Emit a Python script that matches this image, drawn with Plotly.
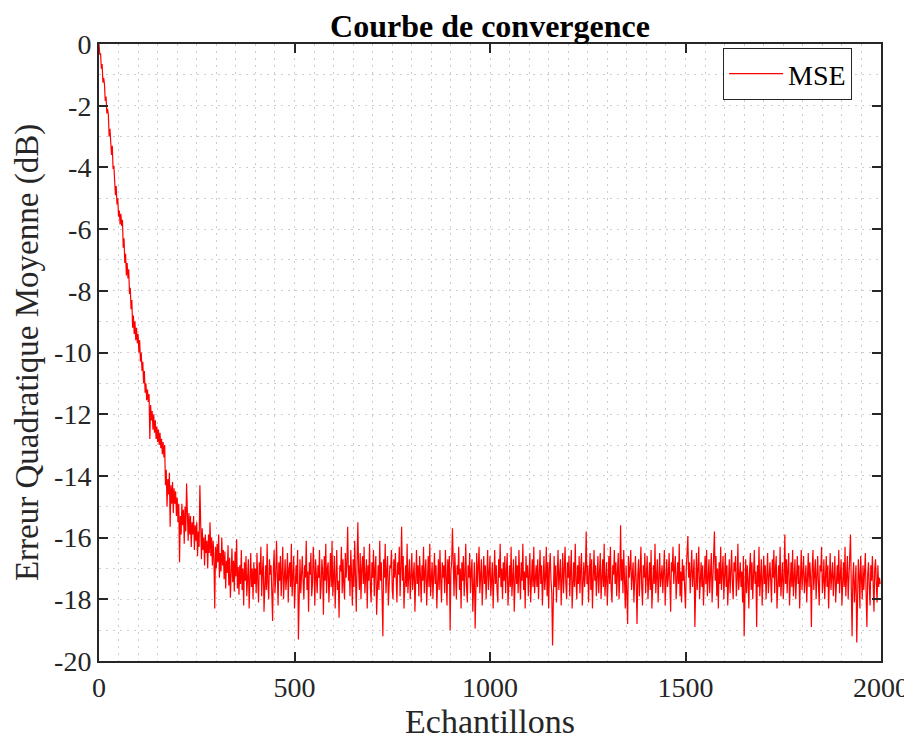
import plotly.graph_objects as go

# Sample index (every 2nd sample of the 2000-sample run)
samples = list(range(0, 2000, 2))

# MSE in dB
mse_db = [
    0.0, -0.35, -0.3, -0.8, -0.65, -1.25, -1.1, -1.3, -1.85, -1.7, -2.25, -2.1, -2.3, -3.0, -2.75, -3.1, -3.6, -3.3, -4.05, -3.95,
    -4.4, -4.9, -4.6, -5.2, -5.0, -5.6, -5.4, -5.85, -5.5, -5.9, -5.7, -6.6, -6.3, -7.1, -6.8, -7.5, -7.1, -7.6, -7.3, -8.1,
    -7.9, -8.6, -8.3, -9.2, -8.8, -9.4, -9.0, -9.6, -9.2, -9.7, -9.4, -10.0, -9.6, -10.3, -10.0, -10.6, -10.3, -11.0, -10.6, -11.3,
    -11.0, -11.55, -11.2, -11.6, -11.35, -12.8, -11.7, -12.2, -11.9, -12.5, -12.0, -12.6, -12.2, -12.8, -12.4, -12.9, -12.5, -13.0, -12.6, -13.1,
    -12.8, -13.3, -12.9, -13.4, -13.0, -14.3, -13.8, -15.0, -14.1, -14.6, -13.9, -15.65, -14.3, -14.9, -14.2, -15.2, -14.4, -14.9, -14.5, -15.3,
    -14.7, -15.5, -14.9, -16.8, -15.3, -15.9, -14.9, -15.6, -15.1, -16.2, -15.0, -15.8, -14.25, -15.4, -16.1, -15.2, -15.9, -15.3, -16.3, -15.5,
    -15.9, -15.3, -16.4, -15.6, -16.1, -15.5, -16.6, -15.8, -16.3, -14.3, -15.9, -16.7, -15.7, -16.4, -16.0, -16.9, -15.9, -16.5, -16.1, -17.0,
    -15.9, -16.5, -15.5, -16.6, -16.0, -16.9, -16.1, -16.7, -18.3, -16.3, -17.0, -16.2, -16.8, -15.9, -17.3, -16.5, -17.1, -16.0, -16.9, -16.4,
    -17.35, -16.45, -17.65, -16.75, -17.15, -16.25, -17.55, -16.65, -17.95, -16.85, -16.35, -17.45, -16.75, -17.75, -16.45, -17.25, -16.05, -17.65, -16.95, -17.85,
    -16.9, -17.5, -16.4, -17.7, -17.0, -18.2, -16.8, -17.4, -16.6, -17.9, -17.2, -16.7, -18.3, -17.1, -16.5, -17.6, -17.0, -18.0, -16.8, -17.5,
    -17.0, -17.8, -16.5, -17.4, -18.1, -16.8, -17.2, -16.3, -17.9, -17.1, -16.6, -18.4, -17.3, -16.9, -17.7, -16.2, -17.5, -18.0, -16.7, -17.2,
    -16.9, -17.6, -18.7, -17.0, -16.4, -17.8, -17.3, -16.1, -17.5, -18.2, -16.8, -17.4, -16.6, -17.9, -17.1, -16.3, -18.0, -17.2, -16.7, -17.7,
    -17.3, -16.5, -18.1, -17.0, -16.8, -17.6, -16.2, -17.9, -17.4, -16.6, -18.3, -17.1, -16.9, -17.5, -16.4, -19.3, -17.2, -16.7, -17.8, -17.0,
    -16.6, -17.4, -18.0, -16.9, -17.3, -16.1, -17.7, -17.1, -18.4, -16.8, -17.2, -16.5, -17.9, -17.5, -16.3, -17.0, -18.2, -16.7, -17.4, -17.8,
    -16.9, -17.3, -16.4, -18.0, -17.6, -16.7, -17.1, -18.5, -16.6, -17.4, -16.2, -17.8, -17.0, -16.8, -18.1, -17.3, -16.5, -17.6, -16.1, -17.9,
    -17.2, -16.6, -18.3, -17.0, -16.4, -17.7, -17.4, -18.6, -16.9, -17.1, -16.3, -17.8, -16.7, -17.5, -18.0, -16.5, -17.3, -16.8, -15.65, -17.4,
    -16.9, -17.9, -16.4, -17.2, -18.2, -16.7, -17.6, -16.1, -17.3, -18.4, -16.8, -15.5, -17.1, -17.7, -16.5, -18.0, -17.0, -16.6, -17.5, -16.3,
    -17.8, -17.1, -16.7, -18.3, -16.9, -17.4, -16.2, -17.6, -18.1, -16.8, -17.3, -16.4, -17.9, -17.0, -16.6, -18.5, -17.2, -16.9, -17.7, -16.1,
    -17.4, -16.8, -17.9, -19.2, -16.7, -17.3, -16.2, -17.8, -17.1, -16.6, -18.2, -17.5, -16.9, -17.0, -16.4, -17.7, -18.0, -16.7, -17.3, -16.5,
    -17.6, -18.1, -16.8, -17.2, -16.3, -17.9, -17.0, -15.65, -17.4, -16.6, -18.3, -17.1, -16.9, -17.6, -16.2, -17.8, -17.3, -16.7, -18.0, -17.2,
    -16.5, -17.7, -17.0, -16.8, -18.4, -17.3, -16.4, -17.5, -16.9, -17.9, -16.6, -17.2, -18.1, -16.9, -17.4, -16.3, -17.8, -17.1, -16.7, -18.2,
    -17.0, -16.6, -17.6, -16.2, -17.9, -17.3, -16.8, -18.0, -17.1, -16.5, -17.5, -16.9, -18.3, -17.2, -16.7, -17.7, -16.4, -17.4, -18.1, -16.8,
    -17.3, -16.9, -17.8, -16.4, -17.2, -18.2, -16.7, -17.5, -16.6, -19.0, -17.1, -16.8, -15.7, -17.4, -17.9, -16.5, -17.6, -18.0, -16.9, -17.2,
    -16.3, -17.7, -17.0, -18.3, -16.8, -17.4, -16.6, -17.9, -17.2, -16.2, -17.6, -18.1, -16.9, -17.3, -16.5, -17.8, -17.1, -16.7, -18.4, -17.0,
    -16.8, -18.95, -17.2, -16.5, -17.6, -17.0, -16.3, -17.8, -17.4, -16.7, -18.2, -17.1, -16.6, -17.5, -16.9, -18.0, -17.3, -16.4, -17.7, -17.1,
    -16.6, -17.9, -17.2, -16.8, -18.3, -17.0, -16.4, -17.5, -16.9, -17.7, -18.1, -16.7, -17.3, -16.2, -17.6, -17.0, -18.0, -16.8, -17.4, -16.6,
    -17.8, -17.1, -16.5, -18.2, -17.3, -16.9, -17.6, -16.3, -17.9, -17.0, -16.7, -18.4, -17.2, -16.6, -17.5, -16.9, -17.8, -16.4, -17.3, -18.0,
    -16.8, -17.4, -16.2, -17.7, -17.1, -18.3, -16.6, -17.3, -16.9, -17.9, -17.2, -16.5, -18.1, -17.0, -16.7, -17.6, -16.3, -17.8, -17.4, -16.9,
    -17.6, -16.7, -18.0, -17.2, -16.4, -17.5, -16.9, -18.2, -17.1, -16.6, -17.7, -17.3, -16.3, -17.9, -16.8, -18.3, -17.0, -16.5, -17.4, -17.8,
    -19.5, -17.1, -16.6, -17.6, -16.9, -18.1, -17.3, -16.4, -17.7, -17.0, -16.7, -18.2, -17.4, -16.5, -17.8, -17.1, -16.3, -17.5, -18.0, -16.8,
    -17.3, -16.6, -17.9, -17.1, -16.4, -18.3, -17.2, -16.8, -17.6, -16.2, -17.4, -18.0, -16.9, -17.5, -16.6, -17.8, -17.0, -16.5, -18.2, -17.3,
    -16.8, -17.6, -17.1, -15.8, -17.5, -16.9, -18.1, -17.2, -16.5, -17.7, -16.7, -18.3, -17.0, -16.4, -17.4, -16.9, -17.9, -17.2, -16.6, -17.8,
    -17.1, -16.5, -18.0, -17.3, -16.7, -17.6, -16.2, -17.9, -17.4, -16.8, -18.2, -17.0, -16.6, -17.5, -16.3, -17.7, -18.1, -16.9, -17.2, -16.4,
    -17.5, -16.8, -17.9, -17.1, -16.5, -18.0, -17.3, -15.6, -17.4, -16.7, -17.8, -16.4, -17.2, -18.3, -16.9, -17.6, -18.8, -16.6, -17.3, -17.0,
    -16.4, -17.7, -17.0, -16.8, -18.1, -17.4, -16.6, -17.5, -18.8, -17.2, -16.7, -17.9, -17.1, -16.3, -17.6, -18.2, -16.9, -17.3, -16.5, -17.8,
    -17.2, -16.6, -18.0, -17.0, -16.8, -17.7, -16.4, -18.3, -17.3, -16.9, -17.5, -16.2, -17.8, -17.1, -16.7, -18.1, -17.4, -16.5, -17.6, -17.0,
    -16.9, -17.8, -17.2, -16.4, -18.2, -17.0, -16.7, -17.6, -17.3, -16.5, -17.9, -18.4, -16.8, -17.1, -16.3, -17.5, -17.0, -16.6, -18.0, -17.4,
    -16.8, -17.5, -16.2, -17.9, -17.1, -18.1, -16.7, -17.4, -16.9, -17.7, -18.3, -17.0, -16.6, -15.95, -17.3, -16.8, -17.8, -17.2, -16.4, -17.6,
    -17.1, -16.7, -18.9, -17.3, -16.5, -17.7, -17.0, -16.3, -18.0, -17.4, -16.8, -17.6, -16.9, -18.2, -17.2, -16.6, -17.5, -16.4, -17.9, -17.0,
    -16.7, -17.8, -17.1, -16.5, -18.1, -17.3, -16.9, -15.8, -17.4, -16.6, -17.9, -17.0, -18.3, -16.8, -17.5, -16.3, -17.7, -17.2, -16.6, -18.0,
    -17.2, -16.5, -17.6, -16.9, -18.2, -17.0, -16.7, -17.8, -17.3, -16.4, -17.5, -18.0, -16.8, -17.1, -16.6, -17.9, -17.4, -16.2, -17.7, -17.0,
    -16.8, -17.6, -17.1, -18.1, -16.6, -19.2, -17.3, -16.7, -17.8, -16.9, -17.4, -18.3, -17.0, -16.5, -17.7, -16.8, -18.0, -17.2, -16.4, -17.5,
    -17.1, -18.9, -16.9, -17.6, -16.3, -17.9, -17.2, -16.7, -18.2, -17.0, -16.6, -17.5, -16.9, -18.0, -17.3, -16.5, -17.8, -17.1, -16.8, -17.4,
    -18.1, -16.7, -17.3, -16.4, -17.8, -17.0, -16.6, -18.3, -17.2, -16.9, -17.6, -16.3, -17.9, -17.1, -16.8, -18.0, -17.4, -15.9, -17.5, -16.7,
    -17.8, -17.0, -16.5, -18.2, -17.3, -16.8, -17.6, -16.4, -17.9, -17.2, -16.7, -18.0, -17.1, -16.6, -17.5, -16.9, -18.3, -17.3, -16.4, -17.7,
    -17.0, -16.6, -17.8, -17.2, -16.9, -18.1, -17.4, -16.5, -17.6, -16.8, -17.3, -18.9, -17.0, -16.4, -17.7, -17.1, -16.7, -18.0, -17.3, -16.6,
    -17.5, -18.2, -16.9, -17.1, -16.3, -17.8, -17.4, -16.7, -18.0, -17.2, -16.6, -17.6, -16.9, -18.3, -17.0, -16.5, -17.7, -17.3, -16.8, -17.9,
    -17.1, -16.6, -18.1, -17.4, -16.9, -17.5, -16.4, -17.8, -17.2, -16.7, -18.2, -17.0, -16.8, -17.6, -16.3, -17.9, -17.3, -16.6, -18.0, -17.2,
    -17.0, -15.9, -17.6, -19.2, -17.3, -16.8, -18.1, -17.5, -16.9, -19.4, -17.8, -16.7, -17.2, -18.3, -16.6, -17.4, -18.0, -16.9, -17.7, -17.1,
    -16.5, -17.9, -18.9, -17.2, -16.8, -17.6, -18.2, -16.9, -17.4, -16.6, -17.8, -18.4, -17.0, -16.7, -17.5, -18.1, -16.9, -17.6, -17.3, -17.5,
]

x_ticks = [0, 500, 1000, 1500, 2000]
y_ticks = [0, -2, -4, -6, -8, -10, -12, -14, -16, -18, -20]

AX = "#262626"
GRID = "#cdcdcd"
DASH = "2px,5px"
FONT = "Liberation Serif, Times New Roman, serif"

fig = go.Figure()
fig.add_trace(go.Scatter(
    x=samples, y=mse_db, mode="lines", name="MSE",
    line=dict(color="#ff0000", width=1.2),
))

axis_common = dict(
    showline=True, linecolor=AX, linewidth=2, mirror="ticks",
    ticks="inside", ticklen=9, tickwidth=2, tickcolor=AX,
    showgrid=True, gridcolor=GRID, griddash=DASH, gridwidth=1,
    zeroline=False, tickfont=dict(size=28, color=AX, family=FONT),
)

fig.update_xaxes(
    range=[0, 2000], tickvals=x_ticks, ticktext=[str(v) for v in x_ticks],
    minor=dict(dtick=50, showgrid=True, gridcolor=GRID, griddash=DASH, gridwidth=1, ticklen=0),
    title=dict(text="Echantillons", font=dict(size=34, color=AX, family=FONT), standoff=6),
    **axis_common,
)
fig.update_yaxes(
    range=[-20, 0], tickvals=y_ticks, ticktext=[str(v) for v in y_ticks],
    minor=dict(dtick=1, showgrid=True, gridcolor=GRID, griddash=DASH, gridwidth=1, ticklen=0),
    title=dict(text="Erreur Quadratique Moyenne (dB)", font=dict(size=33, color=AX, family=FONT), standoff=6),
    **axis_common,
)

# The page body adds an 8 px offset, so the figure is laid out 8 px smaller
fig.update_layout(
    width=904, height=734,
    margin=dict(l=91, r=31, t=36, b=81, autoexpand=False),
    paper_bgcolor="white", plot_bgcolor="white",
    font=dict(family=FONT, color="black"),
    title=dict(text="<b>Courbe de convergence</b>", font=dict(size=32, color="black", family=FONT),
               x=0.5, xref="paper", xanchor="center", y=1 - 18 / 734, yref="container", yanchor="middle"),
    showlegend=True,
    legend=dict(x=0.963, y=0.9936, xanchor="right", yanchor="top",
                bgcolor="white", bordercolor=AX, borderwidth=1, itemwidth=54,
                font=dict(size=28, color="black", family=FONT)),
)

fig.write_html("out.html")
